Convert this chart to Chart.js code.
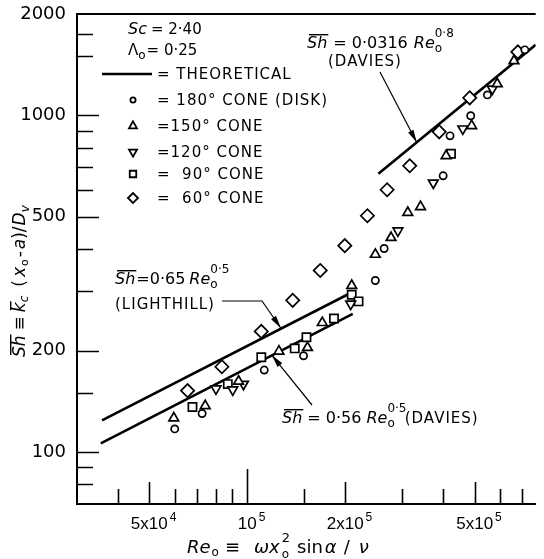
<!DOCTYPE html>
<html>
<head>
<meta charset="utf-8">
<script src="https://cdn.jsdelivr.net/npm/chart.js@4.4.0/dist/chart.umd.min.js"></script>
<style>
html, body { margin: 0; padding: 0; background: #fff; }
canvas { display: block; }
</style>
</head>
<body>
<canvas id="chart" width="544" height="559"></canvas>
<script>
// Mean Sherwood number against rotational Reynolds number for spinning cones
var cone180Re = [59900, 72700, 112800, 149000, 247600, 263500, 400000, 420000, 486200, 547200, 713000];
var cone180Sh = [117, 130, 175, 193, 323, 402, 661, 869, 997, 1150, 1565];

var cone150Re = [59500, 74300, 94100, 125200, 153200, 170100, 209500, 247600, 276700, 311500, 340900, 408500, 489500, 586600, 660000];
var cone150Sh = [126, 137, 162, 199, 204, 242, 312, 386, 433, 514, 535, 758, 931, 1240, 1451];

var cone120Re = [80200, 90300, 97400, 208000, 290500, 373100, 459800, 566500];
var cone120Sh = [154, 153, 159, 275, 454, 630, 912, 1198];

var cone90Re = [67900, 87200, 110500, 140000, 152100, 184800, 209500, 219900, 422900];
var cone90Sh = [136, 159, 191, 203, 219, 249, 293, 280, 769];

var cone60Re = [65600, 83600, 110500, 138000, 167700, 199500, 234100, 269100, 315800, 389000, 482800, 678700];
var cone60Sh = [152, 179, 228, 282, 346, 410, 503, 601, 708, 893, 1127, 1543];

// theoretical lines, end points
var lighthillRe = [35800, 210000];
var lighthillSh = [124, 298];
var davies05Re = [35500, 211000];
var davies05Sh = [106, 257];
var davies08Re = [253000, 770000];
var davies08Sh = [670, 1620];

// axes
var xTickMajor = [5e4, 1e5, 2e5, 5e5];
var xTickLabels = [['5x10', '4'], ['10', '5'], ['2x10', '5'], ['5x10', '5']];
var xTickMinor = [4e4, 6e4, 7e4, 8e4, 9e4, 1.5e5, 3e5, 4e5, 6e5, 7e5];
var yTickMajor = [100, 200, 500, 1000, 2000];
var yTickMinor = [80, 90, 150, 300, 400, 600, 700, 800, 900, 1500, 1750];

function pts(xs, ys) {
    return xs.map(function (x, i) { return { x: x, y: ys[i] }; });
}

function markerSet(label, xs, ys, style, r, rot) {
    return {
        label: label,
        data: pts(xs, ys),
        showLine: false,
        pointStyle: style,
        pointRadius: r,
        pointRotation: rot || 0,
        pointBorderColor: '#000',
        pointBackgroundColor: '#fff',
        pointBorderWidth: 1.7
    };
}

function theoryLine(label, xs, ys) {
    return {
        label: label,
        data: pts(xs, ys),
        showLine: true,
        borderColor: '#000',
        borderWidth: 2.6,
        pointRadius: 0,
        fill: false
    };
}

// draws a row of text pieces, returns the end x
function runs(ctx, x, y, parts) {
    parts.forEach(function (p) {
        ctx.font = p.f;
        ctx.fillText(p.t, x, y + (p.dy || 0));
        var w = ctx.measureText(p.t).width;
        if (p.bar) ctx.fillRect(x + 2, y - p.bar, w - 1, 1.4);
        if (!p.stack) x += w + (p.gap || 0);
    });
    return x;
}

function arrow(ctx, pts) {
    ctx.beginPath();
    ctx.moveTo(pts[0][0], pts[0][1]);
    for (var i = 1; i < pts.length; i++) ctx.lineTo(pts[i][0], pts[i][1]);
    ctx.stroke();
    var a = pts[pts.length - 2], b = pts[pts.length - 1];
    var ang = Math.atan2(b[1] - a[1], b[0] - a[0]);
    ctx.beginPath();
    ctx.moveTo(b[0], b[1]);
    ctx.lineTo(b[0] - 13 * Math.cos(ang) + 3 * Math.sin(ang), b[1] - 13 * Math.sin(ang) - 3 * Math.cos(ang));
    ctx.lineTo(b[0] - 13 * Math.cos(ang) - 3 * Math.sin(ang), b[1] - 13 * Math.sin(ang) + 3 * Math.cos(ang));
    ctx.closePath();
    ctx.fill();
}

var IT = 'italic 16px "DejaVu Sans"';
var RM = '15px "DejaVu Sans"';
var EQ = '16px "DejaVu Sans"';
var SM = '12px "DejaVu Sans"';

var decor = {
    id: 'decor',
    afterDraw: function (chart) {
        var ctx = chart.ctx, a = chart.chartArea;
        var xs = chart.scales.x, ys = chart.scales.y;
        ctx.save();
        ctx.strokeStyle = '#000';
        ctx.fillStyle = '#000';

        // top frame line
        ctx.lineWidth = 2;
        ctx.beginPath();
        ctx.moveTo(a.left, a.top);
        ctx.lineTo(a.right, a.top);
        ctx.stroke();

        // inward tick marks
        ctx.lineWidth = 1.6;
        ctx.beginPath();
        xTickMinor.concat(xTickMajor).forEach(function (v) {
            var len = v === 1e5 ? 35 : (xTickMajor.indexOf(v) >= 0 ? 22 : 15);
            var px = Math.round(xs.getPixelForValue(v)) + 0.5;
            ctx.moveTo(px, a.bottom);
            ctx.lineTo(px, a.bottom - len);
        });
        yTickMinor.concat(yTickMajor.slice(0, 4)).forEach(function (v) {
            var len = yTickMajor.indexOf(v) >= 0 ? 22 : 16;
            var py = Math.round(ys.getPixelForValue(v)) + 0.5;
            ctx.moveTo(a.left, py);
            ctx.lineTo(a.left + len, py);
        });
        ctx.stroke();

        // x tick labels with exponents
        ctx.textBaseline = 'alphabetic';
        xTickMajor.forEach(function (v, i) {
            var px = xs.getPixelForValue(v);
            ctx.font = '17px "Liberation Sans"';
            var w = ctx.measureText(xTickLabels[i][0]).width;
            ctx.fillText(xTickLabels[i][0], px - w / 2, a.bottom + 25);
            ctx.font = '12px "Liberation Sans"';
            ctx.fillText(xTickLabels[i][1], px + w / 2 + 2, a.bottom + 17);
        });

        // x axis title
        runs(ctx, 187, 553, [
            { t: 'Re', f: 'italic 18px "DejaVu Sans"', gap: 1 },
            { t: 'o', f: '12px "DejaVu Sans"', dy: 3, gap: 6 },
            { t: '\u2261', f: '18px "DejaVu Sans"', gap: 14 },
            { t: '\u03c9x', f: 'italic 18px "DejaVu Sans"', gap: 2 },
            { t: '2', f: '13px "DejaVu Sans"', dy: -11, stack: true },
            { t: 'o', f: '12px "DejaVu Sans"', dy: 5, gap: 8 },
            { t: 'sin', f: '18px "DejaVu Sans"', gap: 2 },
            { t: '\u03b1', f: 'italic 18px "DejaVu Sans"', gap: 7 },
            { t: '/', f: '18px "DejaVu Sans"', gap: 9 },
            { t: '\u03bd', f: 'italic 18px "DejaVu Sans"' }
        ]);

        // y axis title, rotated
        ctx.save();
        ctx.translate(25, 357);
        ctx.rotate(-Math.PI / 2);
        runs(ctx, 0, 0, [
            { t: 'Sh', f: 'italic 17px "DejaVu Sans"', bar: 15, gap: 5 },
            { t: '\u2261', f: '17px "DejaVu Sans"', gap: 4 },
            { t: 'k', f: 'italic 17px "DejaVu Sans"', bar: 15 },
            { t: 'c', f: 'italic 12px "DejaVu Sans"', dy: 3, gap: 9 },
            { t: '(', f: '17px "DejaVu Sans"', gap: 3 },
            { t: 'x', f: 'italic 17px "DejaVu Sans"', gap: 1 },
            { t: 'o', f: '11px "DejaVu Sans"', dy: 3, gap: 2 },
            { t: '-', f: '17px "DejaVu Sans"', gap: 2 },
            { t: 'a', f: 'italic 17px "DejaVu Sans"' },
            { t: ')/', f: '17px "DejaVu Sans"', gap: 1 },
            { t: 'D', f: 'italic 17px "DejaVu Sans"' },
            { t: 'v', f: 'italic 12px "DejaVu Sans"', dy: 4 }
        ]);
        ctx.restore();

        // legend block
        runs(ctx, 128, 34, [
            { t: 'Sc', f: IT, gap: 4 },
            { t: '= 2\u00b740', f: RM }
        ]);
        runs(ctx, 128, 55, [
            { t: '\u039b', f: '15px "DejaVu Sans"' },
            { t: 'o', f: SM, dy: 4, gap: 1 },
            { t: '= 0\u00b725', f: RM }
        ]);
        ctx.lineWidth = 2.6;
        ctx.beginPath();
        ctx.moveTo(102, 74);
        ctx.lineTo(152, 74);
        ctx.stroke();

        ctx.textBaseline = 'middle';
        ctx.letterSpacing = '1px';
        ctx.font = RM;
        ctx.fillText('= THEORETICAL', 157, 75);
        var leg = [
            ['= 180\u00b0 CONE (DISK)', 'circle', 2.6, 0, 100],
            ['=150\u00b0 CONE', 'triangle', 4.6, 0, 126],
            ['=120\u00b0 CONE', 'triangle', 4.6, 180, 152],
            ['=  90\u00b0 CONE', 'rect', 4.6, 0, 174],
            ['=  60\u00b0 CONE', 'rectRot', 5, 0, 198]
        ];
        leg.forEach(function (l) {
            ctx.font = RM;
            ctx.fillText(l[0], 157, l[4] + 1);
            ctx.save();
            ctx.fillStyle = '#fff';
            ctx.lineWidth = 1.8;
            Chart.helpers.drawPoint(ctx, { pointStyle: l[1], radius: l[2], rotation: l[3], borderWidth: 1.8 }, 133, l[4]);
            ctx.restore();
        });
        ctx.letterSpacing = '0px';

        // annotation: Davies 0.8 line
        ctx.textBaseline = 'alphabetic';
        var ex = runs(ctx, 307, 48, [
            { t: 'Sh', f: IT, bar: 14, gap: 6 },
            { t: '= 0\u00b70316', f: EQ, gap: 6 },
            { t: 'Re', f: IT }
        ]);
        runs(ctx, ex, 48, [
            { t: '0\u00b78', f: SM, dy: -11, stack: true },
            { t: 'o', f: SM, dy: 4 }
        ]);
        ctx.letterSpacing = '1px';
        ctx.font = RM;
        ctx.fillText('(DAVIES)', 328, 66);
        ctx.letterSpacing = '0px';
        ctx.lineWidth = 1.2;
        arrow(ctx, [[380, 72], [xs.getPixelForValue(3.32e5), ys.getPixelForValue(830)]]);

        // annotation: Lighthill
        ex = runs(ctx, 115, 284, [
            { t: 'Sh', f: IT, bar: 14, gap: 1 },
            { t: '=0\u00b765', f: EQ, gap: 4 },
            { t: 'Re', f: IT }
        ]);
        runs(ctx, ex, 284, [
            { t: '0\u00b75', f: SM, dy: -11, stack: true },
            { t: 'o', f: SM, dy: 4 }
        ]);
        ctx.letterSpacing = '1px';
        ctx.font = RM;
        ctx.fillText('(LIGHTHILL)', 115, 309);
        ctx.letterSpacing = '0px';
        arrow(ctx, [[222, 301], [262, 301], [xs.getPixelForValue(1.27e5), ys.getPixelForValue(233)]]);

        // annotation: Davies 0.5 line
        ex = runs(ctx, 282, 423, [
            { t: 'Sh', f: IT, bar: 14, gap: 5 },
            { t: '= 0\u00b756', f: EQ, gap: 5 },
            { t: 'Re', f: IT }
        ]);
        ex = runs(ctx, ex, 423, [
            { t: '0\u00b75', f: SM, dy: -11, stack: true },
            { t: 'o', f: SM, dy: 4, gap: 10 }
        ]);
        ctx.letterSpacing = '1px';
        ctx.font = RM;
        ctx.fillText('(DAVIES)', ex, 423);
        ctx.letterSpacing = '0px';
        arrow(ctx, [[312, 405], [xs.getPixelForValue(1.19e5), ys.getPixelForValue(194)]]);

        ctx.restore();
    }
};

var ctx = document.getElementById('chart').getContext('2d');

new Chart(ctx, {
    type: 'scatter',
    data: {
        datasets: [
            markerSet('180\u00b0 cone (disk)', cone180Re, cone180Sh, 'circle', 3.6),
            markerSet('150\u00b0 cone', cone150Re, cone150Sh, 'triangle', 5.6),
            markerSet('120\u00b0 cone', cone120Re, cone120Sh, 'triangle', 5.6, 180),
            markerSet('90\u00b0 cone', cone90Re, cone90Sh, 'rect', 5.8),
            markerSet('60\u00b0 cone', cone60Re, cone60Sh, 'rectRot', 6.6),
            theoryLine('Lighthill', lighthillRe, lighthillSh),
            theoryLine('Davies 0.5', davies05Re, davies05Sh),
            theoryLine('Davies 0.8', davies08Re, davies08Sh)
        ]
    },
    options: {
        responsive: false,
        animation: false,
        layout: { padding: { top: 14, left: 0, right: 0, bottom: 0 } },
        plugins: {
            legend: { display: false },
            tooltip: { enabled: false }
        },
        scales: {
            x: {
                type: 'logarithmic',
                min: 3e4,
                max: 7.7e5,
                grid: { display: false },
                border: { display: true, color: '#000', width: 2 },
                ticks: { display: false },
                afterFit: function (s) { s.height = 55; }
            },
            y: {
                type: 'logarithmic',
                min: 70,
                max: 2000,
                grid: { display: false },
                border: { display: true, color: '#000', width: 2 },
                afterBuildTicks: function (s) {
                    s.ticks = yTickMajor.map(function (v) { return { value: v }; });
                },
                ticks: {
                    color: '#000',
                    padding: 3,
                    autoSkip: false,
                    font: { family: 'DejaVu Sans', size: 18 },
                    callback: function (v) { return String(v); }
                },
                afterFit: function (s) { s.width = 77; }
            }
        }
    },
    plugins: [decor]
});
</script>
</body>
</html>
